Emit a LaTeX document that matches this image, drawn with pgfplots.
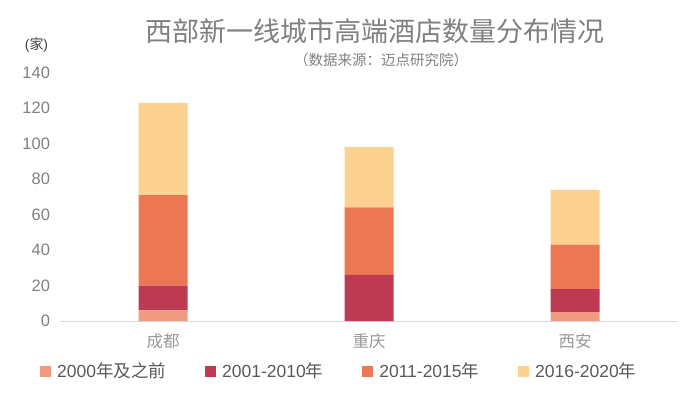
\documentclass[border=0pt]{standalone}
\usepackage{pgfplots}
\pgfplotsset{compat=1.18}
\usepackage{fontspec}
\setmainfont{Liberation Sans}
\newfontfamily\cjk{Noto Sans CJK SC}
\definecolor{cA}{HTML}{F09A82}
\definecolor{cB}{HTML}{BE3A52}
\definecolor{cC}{HTML}{EC7753}
\definecolor{cD}{HTML}{FDD18F}
\definecolor{tgray}{HTML}{808080}
\definecolor{lgray}{HTML}{D9D9D9}
\definecolor{cgray}{HTML}{999999}
\begin{document}
\begin{tikzpicture}[x=1pt,y=1pt]
\path[use as bounding box] (0,0) rectangle (700,392);
\begin{axis}[
  at={(60pt,71pt)}, anchor=south west,
  scale only axis, width=618pt, height=248.3pt,
  xmin=-0.5, xmax=2.5, ymin=0, ymax=140,
  ybar stacked, bar width=49pt,
  axis x line=bottom, axis y line=left,
  axis line style={-},
  x axis line style={draw=lgray, line width=1pt},
  y axis line style={draw=none},
  major tick length=0pt,
  xtick={0,1,2},
  xticklabels={{\cjk 成都},{\cjk 重庆},{\cjk 西安}},
  ytick={0,20,...,140},
  yticklabel style={font=\fontsize{16.5}{18}\selectfont, text=tgray, xshift=-6.5pt},
  xticklabel style={font=\fontsize{16.5}{18}\selectfont, text=cgray, yshift=-9pt},
  /pgf/number format/assume math mode=true,
  clip=false,
  legend columns=4,
  legend style={at={(-0.0324,-0.2014)}, anchor=west, draw=none, fill=none, inner sep=0pt,
    font=\fontsize{17.5}{19}\selectfont, text=black!65,
    /tikz/every odd column/.append style={column sep=4pt},
    /tikz/every even column/.append style={column sep=37pt}},
  legend image code/.code={\fill[#1] (0pt,-5.5pt) rectangle (11pt,5.5pt);},
]
\addplot[fill=cA, draw=none] coordinates {(0,6) (1,0) (2,5)};
\addplot[fill=cB, draw=none] coordinates {(0,14) (1,26) (2,13)};
\addplot[fill=cC, draw=none] coordinates {(0,51) (1,38) (2,25)};
\addplot[fill=cD, draw=none] coordinates {(0,52) (1,34) (2,31)};
\legend{{2000\cjk 年及之前},{2001-2010\cjk 年},{2011-2015\cjk 年},{2016-2020\cjk 年}}
\end{axis}
\node[font=\cjk\fontsize{27}{30}\selectfont, text=tgray] at (374.5,360.5) {西部新一线城市高端酒店数量分布情况};
\node[font=\cjk\fontsize{14.5}{16}\selectfont, text=tgray] at (381,332.5) {（数据来源：迈点研究院）};
\node[font=\fontsize{14}{16}\selectfont, text=black!75] at (36.5,347) {(\cjk 家\rmfamily)};
\end{tikzpicture}
\end{document}
